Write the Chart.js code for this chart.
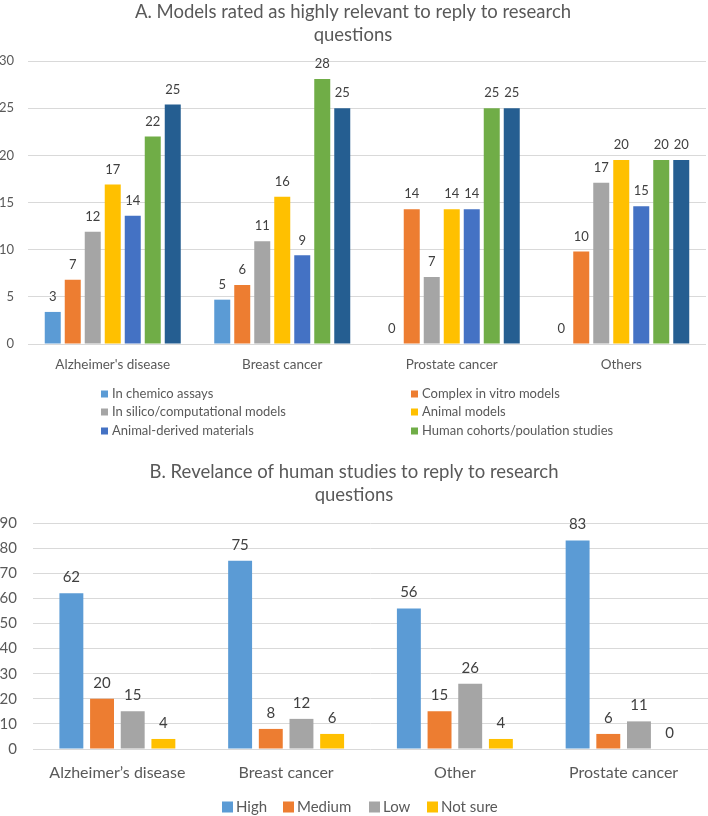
<!DOCTYPE html>
<html>
<head>
<meta charset="utf-8">
<script src="https://cdn.jsdelivr.net/npm/chart.js@4/dist/chart.umd.min.js"></script>
<style>
  body { margin: 0; background: #fff; }
  canvas { display: block; }
</style>
</head>
<body>
<canvas id="chart-a" width="708" height="460"></canvas>
<canvas id="chart-b" width="708" height="356"></canvas>
<script>
// --- chart A data (percent of respondents, labels show rounded values)
const categoriesA = ["Alzheimer's disease", 'Breast cancer', 'Prostate cancer', 'Others'];
const inChemico = [3.4, 4.7, 0, 0];
const complexInVitro = [6.8, 6.25, 14.3, 9.8];
const inSilico = [11.9, 10.9, 7.1, 17.1];
const animalModels = [16.9, 15.6, 14.3, 19.5];
const animalDerived = [13.6, 9.4, 14.3, 14.6];
const humanCohorts = [22.0, 28.1, 25.0, 19.5];
const otherModels = [25.4, 25.0, 25.0, 19.5];
const ticksA = [0, 5, 10, 15, 20, 25, 30];

// --- chart B data
const categoriesB = ['Alzheimer’s disease', 'Breast cancer', 'Other', 'Prostate cancer'];
const high = [62, 75, 56, 83];
const medium = [20, 8, 15, 6];
const low = [15, 12, 26, 11];
const notSure = [4, 6, 4, 0];
const ticksB = [0, 10, 20, 30, 40, 50, 60, 70, 80, 90];

const FONT = 'Lato';
const TXT = '#595959';
const GRID = '#D9D9D9';

// value labels above each bar
const barLabels = {
  id: 'barLabels',
  afterDatasetsDraw(chart, args, opts) {
    const ctx = chart.ctx;
    ctx.save();
    ctx.font = opts.size + 'px ' + FONT;
    ctx.fillStyle = '#404040';
    ctx.textAlign = 'center';
    ctx.textBaseline = 'middle';
    chart.data.datasets.forEach((ds, i) => {
      chart.getDatasetMeta(i).data.forEach((bar, j) => {
        ctx.fillText(Math.round(ds.data[j]), bar.x, bar.y - opts.offset);
      });
    });
    ctx.restore();
  }
};

// legend laid out in fixed columns like the Excel one
const colLegend = {
  id: 'colLegend',
  afterDraw(chart, args, opts) {
    const ctx = chart.ctx;
    const items = chart.data.datasets.filter(d => !d.legendHidden);
    ctx.save();
    ctx.font = opts.size + 'px ' + FONT;
    ctx.textBaseline = 'middle';
    ctx.textAlign = 'left';
    items.forEach((ds, k) => {
      const x = opts.cols[k % opts.cols.length];
      const y = opts.rows[Math.floor(k / opts.cols.length)];
      ctx.fillStyle = ds.backgroundColor;
      ctx.fillRect(x, y - opts.box / 2, opts.box, opts.box);
      ctx.fillStyle = TXT;
      ctx.fillText(ds.label, x + opts.box + opts.gap, y);
    });
    ctx.restore();
  }
};

function yScale(ticks, width, size, pad) {
  return {
    min: ticks[0], max: ticks[ticks.length - 1],
    afterFit: s => { s.width = width; },
    afterBuildTicks: s => { s.ticks = ticks.map(v => ({ value: v })); },
    ticks: { padding: pad, color: TXT, font: { family: FONT, size: size } },
    grid: { color: GRID, drawTicks: false },
    border: { display: false }
  };
}
function xScale(size, pad) {
  return {
    afterFit: s => { s.height = 40; },
    ticks: { padding: pad, color: TXT, font: { family: FONT, size: size } },
    grid: { display: false },
    border: { display: false }
  };
}
function titleOpts(lines, top, bottom) {
  return {
    display: true, text: lines, color: TXT,
    font: { family: FONT, size: 18.5, weight: 'normal', lineHeight: 1.25 },
    padding: { top: top, bottom: bottom }
  };
}

new Chart(document.getElementById('chart-a'), {
  type: 'bar',
  data: {
    labels: categoriesA,
    datasets: [
      { label: 'In chemico assays', data: inChemico, backgroundColor: '#5B9BD5' },
      { label: 'Complex in vitro models', data: complexInVitro, backgroundColor: '#ED7D31' },
      { label: 'In silico/computational models', data: inSilico, backgroundColor: '#A5A5A5' },
      { label: 'Animal models', data: animalModels, backgroundColor: '#FFC000' },
      { label: 'Animal-derived materials', data: animalDerived, backgroundColor: '#4472C4' },
      { label: 'Human cohorts/poulation studies', data: humanCohorts, backgroundColor: '#70AD47' },
      { label: 'Other', data: otherModels, backgroundColor: '#255E91', legendHidden: true }
    ]
  },
  options: {
    responsive: false, animation: false, devicePixelRatio: 1,
    categoryPercentage: 0.826, barPercentage: 0.8,
    layout: { padding: { left: 0, right: 2, top: 0, bottom: 76 } },
    scales: { x: xScale(13.5, 5), y: yScale(ticksA, 28, 13, 14) },
    plugins: {
      legend: { display: false },
      tooltip: { enabled: false },
      title: titleOpts(['A. Models rated as highly relevant to reply to research', 'questions'], 0, 14.8),
      barLabels: { size: 13, offset: 15 },
      colLegend: { cols: [101, 411], rows: [394, 412, 431], box: 7, gap: 4, size: 13 }
    }
  },
  plugins: [barLabels, colLegend]
});

new Chart(document.getElementById('chart-b'), {
  type: 'bar',
  data: {
    labels: categoriesB,
    datasets: [
      { label: 'High', data: high, backgroundColor: '#5B9BD5' },
      { label: 'Medium', data: medium, backgroundColor: '#ED7D31' },
      { label: 'Low', data: low, backgroundColor: '#A5A5A5' },
      { label: 'Not sure', data: notSure, backgroundColor: '#FFC000' }
    ]
  },
  options: {
    responsive: false, animation: false, devicePixelRatio: 1,
    categoryPercentage: 0.727, barPercentage: 0.78,
    layout: { padding: { left: 0, right: 0, top: 0, bottom: 27 } },
    scales: { x: xScale(16, 6), y: yScale(ticksB, 33, 15, 16) },
    plugins: {
      legend: { display: false },
      tooltip: { enabled: false },
      title: titleOpts(['B. Revelance of human studies to reply to research', 'questions'], 0.5, 16.3),
      barLabels: { size: 15, offset: 16 },
      colLegend: { cols: [222, 283, 369, 427], rows: [347], box: 11, gap: 3, size: 15 }
    }
  },
  plugins: [barLabels, colLegend]
});
</script>
</body>
</html>
